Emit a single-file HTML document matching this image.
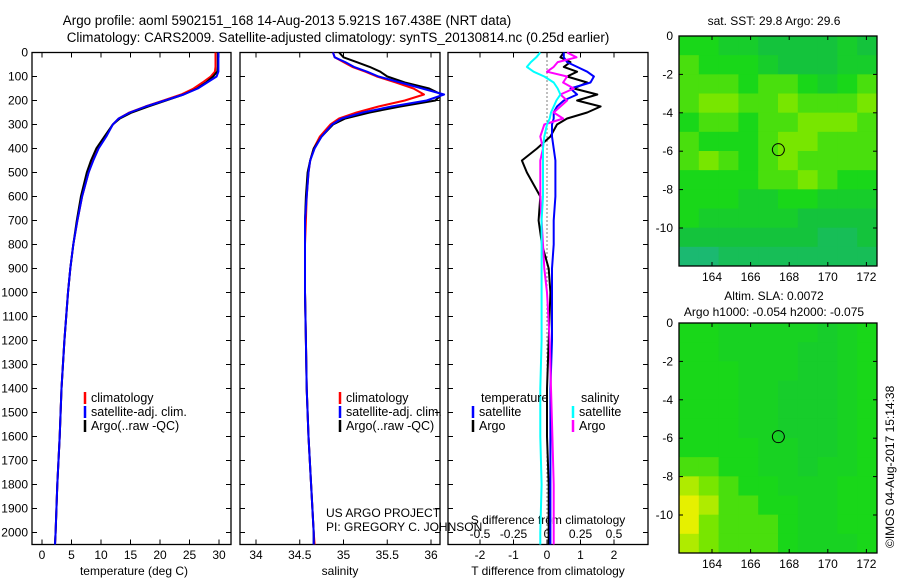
<!DOCTYPE html>
<html><head><meta charset="utf-8"><style>
body{margin:0;background:#fff;}
svg{display:block;font-family:"Liberation Sans",sans-serif;font-size:12px;}
.t{font-size:13.4px;}
</style></head><body>
<svg id="c" width="900" height="580" viewBox="0 0 900 580">
<text class="t" x="287" y="25" text-anchor="middle">Argo profile: aoml 5902151_168 14-Aug-2013 5.921S 167.438E (NRT data)</text>
<text class="t" x="338" y="42" text-anchor="middle">Climatology: CARS2009. Satellite-adjusted climatology: synTS_20130814.nc (0.25d earlier)</text>
<g id="g"></g>
<text x="774" y="25" text-anchor="middle">sat. SST: 29.8 Argo: 29.6</text>
<text x="774" y="300" text-anchor="middle">Altim. SLA: 0.0072</text>
<text x="774" y="316" text-anchor="middle">Argo h1000: -0.054 h2000: -0.075</text>
<text transform="translate(894,548) rotate(-90)">©IMOS 04-Aug-2017 15:14:38</text>
<text x="326" y="517">US ARGO PROJECT</text>
<text x="326" y="531">PI: GREGORY C. JOHNSON</text>
</svg>
<script>
const depth=[0,20,40,60,80,100,125,150,175,200,225,250,275,300,350,400,450,500,600,700,800,900,1000,1200,1400,1600,1800,2000,2050];
const tempArgo=[29.8,29.8,29.8,29.8,29.7,29.0,27.8,26.3,24.0,21.0,18.0,15.2,13.2,12.0,10.6,9.2,8.3,7.6,6.6,5.9,5.3,4.8,4.4,3.8,3.3,3.0,2.6,2.3,2.2];
const tempClim=[29.4,29.4,29.4,29.4,29.3,28.6,27.2,25.7,23.6,20.6,17.5,14.8,13.0,12.0,10.8,9.5,8.6,7.9,6.8,6.0,5.3,4.8,4.4,3.8,3.3,3.0,2.6,2.3,2.2];
const tempSat=[29.9,29.9,29.9,29.9,29.9,29.6,28.0,26.4,24.0,20.8,17.6,14.9,13.0,12.0,10.9,9.6,8.7,7.9,6.8,6.0,5.3,4.8,4.4,3.8,3.3,3.0,2.6,2.3,2.2];
const salArgo=[34.95,35.0,35.15,35.3,35.42,35.5,35.7,35.98,36.12,36.05,35.65,35.3,35.02,34.88,34.75,34.66,34.62,34.59,34.57,34.56,34.56,34.56,34.56,34.57,34.58,34.6,34.63,34.66,34.66];
const salClim=[34.88,34.9,35.0,35.1,35.25,35.38,35.6,35.8,35.92,35.7,35.4,35.15,34.95,34.85,34.73,34.66,34.62,34.6,34.58,34.57,34.56,34.56,34.56,34.57,34.58,34.6,34.63,34.66,34.67];
const salSat=[34.88,34.9,35.02,35.12,35.27,35.4,35.65,35.9,36.15,35.95,35.55,35.22,34.98,34.87,34.75,34.67,34.62,34.6,34.58,34.56,34.56,34.56,34.56,34.57,34.58,34.6,34.63,34.66,34.66];
const tdSat=[0.5,0.5,0.6,0.9,1.2,1.4,1.3,0.7,0.9,0.5,0.3,0.2,0.2,0.15,0.15,0.2,0.25,0.25,0.25,0.2,0.2,0.15,0.15,0.15,0.1,0.1,0.1,0.1,0.1];
const tdArgo=[0.5,0.4,0.7,0.5,0.9,0.6,1.2,0.8,1.5,0.9,1.6,1.2,0.6,0.3,0.1,-0.3,-0.75,-0.6,-0.2,-0.25,-0.15,0.05,0.1,0.05,0.0,0.0,0.05,0.05,0.05];
const sdSat=[-0.05,-0.08,-0.12,-0.15,-0.1,-0.02,0.05,0.08,0.1,0.07,0.05,0.03,0.02,0.0,-0.02,-0.03,-0.03,-0.03,-0.03,-0.04,-0.04,-0.04,-0.04,-0.04,-0.05,-0.05,-0.04,-0.05,-0.05];
const sdArgo=[0.15,0.22,0.08,0.05,0.0,0.15,0.12,0.2,0.1,0.15,0.1,0.05,0.12,-0.02,-0.05,-0.03,-0.05,-0.05,-0.05,-0.04,-0.03,-0.02,0.0,0.02,0.03,0.04,0.05,0.05,0.05];
const depthTicks=[0,100,200,300,400,500,600,700,800,900,1000,1100,1200,1300,1400,1500,1600,1700,1800,1900,2000];
const tempTicks=[0,5,10,15,20,25,30];
const salTicks=[34,34.5,35,35.5,36];
const tdTicks=[-2,-1,0,1,2];
const sdTicks=[-0.5,-0.25,0,0.25,0.5];
const lonTicks=[164,166,168,170,172];
const latTicks=[0,-2,-4,-6,-8,-10];
const sstGrid=[
[5,5,4,4,3,3,3,3,4,3],
[6,5,5,5,4,3,3,3,4,4],
[6,6,6,5,6,6,5,4,5,6],
[6,7,7,6,6,7,6,6,6,7],
[5,6,6,5,6,6,7,7,7,6],
[6,5,5,5,6,7,7,6,6,6],
[6,7,6,5,6,7,6,6,6,6],
[5,5,5,5,6,6,7,6,5,5],
[5,5,5,4,4,5,5,4,4,4],
[5,4,4,4,4,4,3,3,3,3],
[3,3,3,3,3,3,3,2,2,3],
[1,1,2,2,2,2,2,2,2,2]];
const slaGrid=[
[5,5,4.5,4.5,4.5,4.5,4.5,4,4.5,5],
[5,5,4.5,4.5,4.5,4.5,4,4,4.5,5],
[5,5,5,4.5,4.5,4.5,4,4,4.5,5],
[5,5,5,4.5,4.5,4,4,4,4.5,5],
[5,5,5,4.5,4.5,4,4,4,4.5,5],
[5,5,5,4.5,4.5,4,4,4,4.5,5],
[5,5,5,5,4.5,4.5,4,4,4.5,5],
[6,6,5,5,4.5,4.5,4,4.5,4.5,5],
[8,7,6,5,5,4.5,4.5,4.5,5,5],
[9,8,6,6,5,5,4.5,4.5,5,5],
[9,7,6,6,6,5,4.5,4.5,5,5],
[8,7,6,6,6,5,4.5,4.5,4.5,5]];
const argoLon=167.438, argoLat=-5.921;

const NS='http://www.w3.org/2000/svg';
const g=document.getElementById('g');
function el(t,a,p){const e=document.createElementNS(NS,t);for(const k in a)e.setAttribute(k,a[k]);(p||g).appendChild(e);return e;}
const Y0=52.5, YK=0.24;
const yD=d=>Y0+d*YK;
const xT=v=>42+v*5.9;
const xS=v=>256+(v-34)*87.5;
const xTD=v=>547+v*33.5;
const xSD=v=>547+v*134;

function frame(x0,x1,name){
  const r=el('rect',{x:x0,y:52.5,width:x1-x0,height:492,fill:'none',stroke:'#000','stroke-width':1.3});
  
  
}
function xticks(x0,x1,ticks,fx,labY,name){
  ticks.forEach(t=>{const x=fx(t);
    el('line',{x1:x,x2:x,y1:544.5,y2:539.5,stroke:'#000'});
    el('line',{x1:x,x2:x,y1:52.5,y2:57.5,stroke:'#000'});
    const tx=el('text',{x:x,y:labY,'text-anchor':'middle'});tx.textContent=t;
    
    
  });
}
function yticks(x0,x1){
  depthTicks.forEach(d=>{const y=yD(d);
    el('line',{x1:x0,x2:x0+5,y1:y,y2:y,stroke:'#000'});
    el('line',{x1:x1,x2:x1-5,y1:y,y2:y,stroke:'#000'});
  });
}
function line(xs,f,color,w,name){
  const pts=depth.map((d,i)=>f(xs[i]).toFixed(1)+','+yD(d).toFixed(1)).join(' ');
  const p=el('polyline',{points:pts,fill:'none',stroke:color,'stroke-width':w,'stroke-linejoin':'round'});
  
  
}
function legend(x,y,items){
  items.forEach((it,i)=>{
    el('line',{x1:x,x2:x,y1:y+i*14-10,y2:y+i*14+2,stroke:it[1],'stroke-width':2.5});
    const t=el('text',{x:x+6,y:y+i*14,'font-size':'12.5'});t.textContent=it[0];
    
    
  });
}
frame(32,231,'temperature-panel');
yticks(32,231);
depthTicks.forEach(d=>{const t=el('text',{x:28,y:yD(d)+4,'text-anchor':'end'});t.textContent=d;
  
  });
xticks(32,231,tempTicks,xT,559,'temperature');
let t=el('text',{x:134,y:575,'text-anchor':'middle'});t.textContent='temperature (deg C)';


line(tempClim,xT,'#f00',2,'temp-climatology-line');
line(tempArgo,xT,'#000',2,'temp-argo-line');
line(tempSat,xT,'#00f',2,'temp-satellite-line');
legend(85,402,[['climatology','#f00'],['satellite-adj. clim.','#00f'],['Argo(..raw -QC)','#000']]);
frame(240,440,'salinity-panel');
yticks(240,440);
xticks(240,440,salTicks,xS,559,'salinity');
t=el('text',{x:340,y:575,'text-anchor':'middle'});t.textContent='salinity';


line(salClim,xS,'#f00',2,'sal-climatology-line');
line(salArgo,xS,'#000',2,'sal-argo-line');
line(salSat,xS,'#00f',2,'sal-satellite-line');
legend(340,402,[['climatology','#f00'],['satellite-adj. clim.','#00f'],['Argo(..raw -QC)','#000']]);
frame(448,648,'difference-panel');
yticks(448,648);
el('line',{x1:547,x2:547,y1:52.5,y2:544,stroke:'#000','stroke-dasharray':'1,3'});
xticks(448,648,tdTicks,xTD,559,'t-difference');
sdTicks.forEach(s=>{const tx=el('text',{x:xSD(s),y:538,'text-anchor':'middle'});tx.textContent=s;
  
  });
t=el('text',{x:548,y:524,'text-anchor':'middle'});t.textContent='S difference from climatology';


t=el('text',{x:548,y:575,'text-anchor':'middle'});t.textContent='T difference from climatology';


line(tdArgo,xTD,'#000',2,'tdiff-argo-line');
line(tdSat,xTD,'#00f',2,'tdiff-satellite-line');
line(sdArgo,xSD,'#f0f',2,'sdiff-argo-line');
line(sdSat,xSD,'#0ff',2,'sdiff-satellite-line');
t=el('text',{x:481,y:402,'font-size':'12.5'});t.textContent='temperature';


t=el('text',{x:581,y:402,'font-size':'12.5'});t.textContent='salinity';


legend(473,416,[['satellite','#00f'],['Argo','#000']]);
legend(573,416,[['satellite','#0ff'],['Argo','#f0f']]);
function col(v){
  const stops=[[0,[30,180,140]],[3,[20,195,60]],[5,[25,215,25]],[7,[120,230,0]],[9,[230,240,0]]];
  for(let i=0;i<stops.length-1;i++){const a=stops[i],b=stops[i+1];
    if(v<=b[0]){const f=(v-a[0])/(b[0]-a[0]);return 'rgb('+a[1].map((c,j)=>Math.round(c+(b[1][j]-c)*f)).join(',')+')';}}
  return 'rgb(230,240,0)';
}
function map(top,grid,name){
  const L=679,R=877,H=230,B=top+H;
  const xL=v=>712+(v-164)*19.3;
  const yL=v=>top+(-v)*19.2;
  const rows=grid.length,cols=grid[0].length,cw=(R-L)/cols,ch=H/rows;
  grid.forEach((row,i)=>row.forEach((v,j)=>{
    const r=el('rect',{x:L+j*cw,y:top+i*ch,width:cw+0.5,height:ch+0.5,fill:col(v)});
    
    
  }));
  const f=el('rect',{x:L,y:top,width:R-L,height:H,fill:'none',stroke:'#000','stroke-width':1.3});
  
  
  lonTicks.forEach(v=>{const x=xL(v);el('line',{x1:x,x2:x,y1:B,y2:B-4,stroke:'#000'});el('line',{x1:x,x2:x,y1:top,y2:top+4,stroke:'#000'});
    const tx=el('text',{x:x,y:B+15,'text-anchor':'middle'});tx.textContent=v;
    
    });
  latTicks.forEach(v=>{const y=yL(v);el('line',{x1:L,x2:L+4,y1:y,y2:y,stroke:'#000'});el('line',{x1:R,x2:R-4,y1:y,y2:y,stroke:'#000'});
    const tx=el('text',{x:L-6,y:y+4,'text-anchor':'end'});tx.textContent=v;
    
    });
  const c=el('circle',{cx:xL(argoLon),cy:yL(argoLat),r:6,fill:'none',stroke:'#000'});
  
  
}
map(36,sstGrid,'sst-map');
map(323,slaGrid,'sla-map');
</script>
</body></html>
